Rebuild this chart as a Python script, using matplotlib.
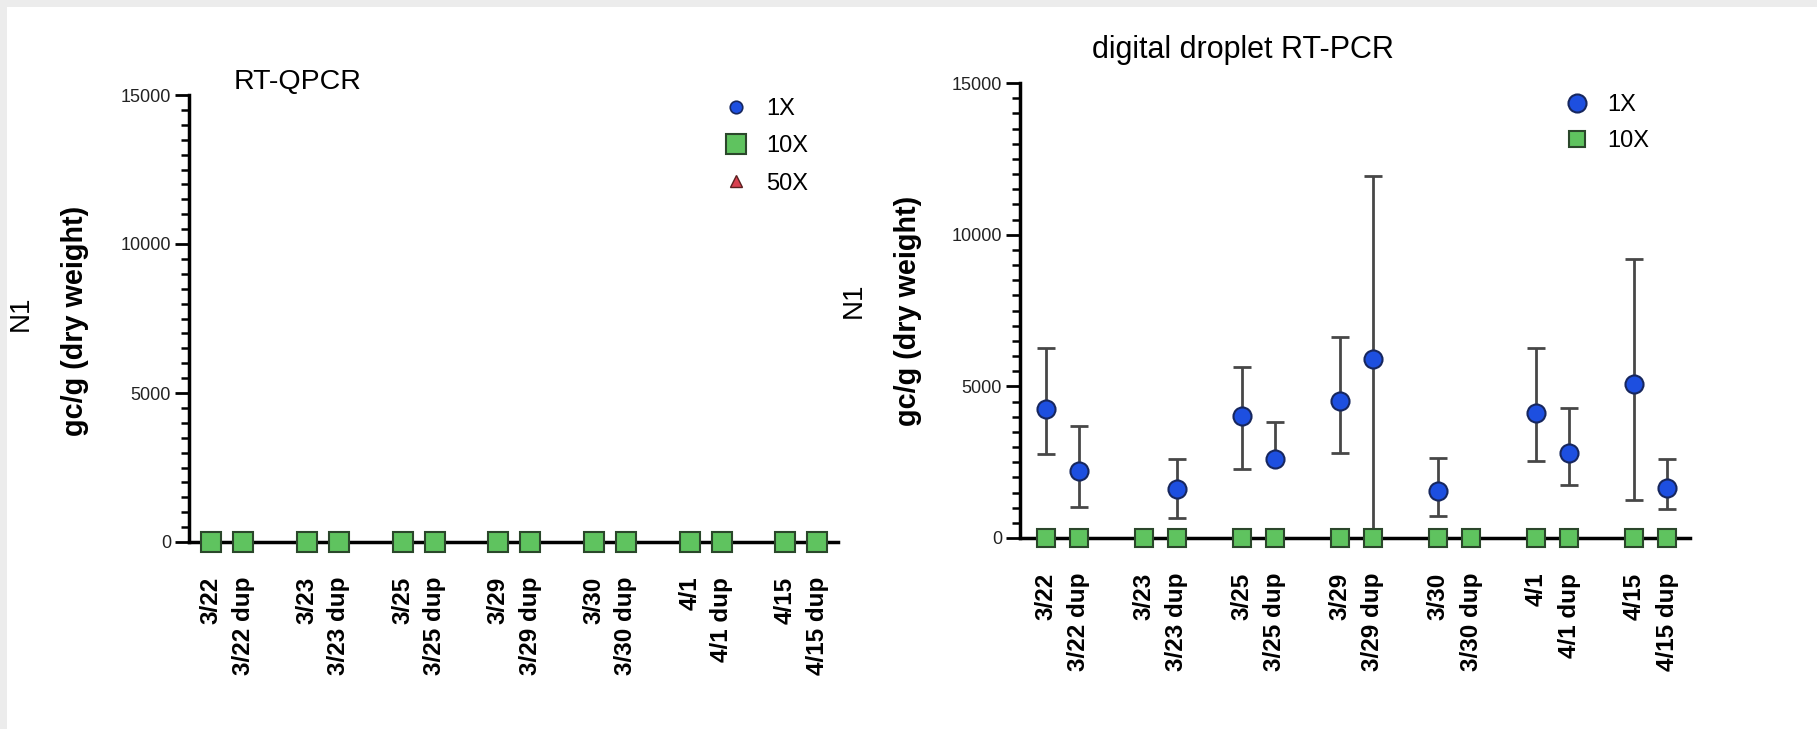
import numpy as np
import matplotlib
matplotlib.use('Agg')
import matplotlib.pyplot as plt
from matplotlib.ticker import MultipleLocator
from matplotlib.lines import Line2D
from matplotlib.patches import Rectangle

plt.rcParams['font.family'] = ['Liberation Sans', 'DejaVu Sans']

# Sample labels (each date plus its duplicate)
labels = ['3/22', '3/22 dup', '3/23', '3/23 dup', '3/25', '3/25 dup',
          '3/29', '3/29 dup', '3/30', '3/30 dup', '4/1', '4/1 dup',
          '4/15', '4/15 dup']

# RT-qPCR: everything at zero
qpcr_10x = [0, 0, 0, 0, 0, 0, 0, 0, 0, 0, 0, 0, 0, 0]

# ddRT-PCR, 1X dilution: mean with upper / lower error bar ends
dd_1x = [4240, 2220, np.nan, 1610, 4010, 2590, 4520, 5900, 1560, np.nan,
         4120, 2790, 5090, 1640]
dd_1x_hi = [6270, 3690, np.nan, 2600, 5640, 3830, 6620, 11940, 2630, np.nan,
            6270, 4280, 9210, 2600]
dd_1x_lo = [2760, 1030, np.nan, 670, 2280, 2590, 2790, 0, 720, np.nan,
            2530, 1760, 1260, 950]
dd_10x = [0, 0, 0, 0, 0, 0, 0, 0, 0, 0, 0, 0, 0, 0]

# positions: pairs with a gap between dates
xpos = np.array([3 * (i // 2) + i % 2 for i in range(len(labels))])

blue = '#1d4fe0'
blue_edge = '#17275e'
green = '#5fc35f'
green_edge = '#2b472b'
red = '#d8404f'

fig = plt.figure(figsize=(18.17, 7.29), dpi=100)
fig.patch.set_facecolor('#ececec')
fig.patches.append(Rectangle((7 / 1817, 0), 1, 1 - 7 / 729, transform=fig.transFigure,
                             facecolor='white', edgecolor='none', zorder=-10))


def style_axes(ax, xlim):
    ax.set_xlim(*xlim)
    ax.set_ylim(0, 15000)
    for s in ['top', 'right']:
        ax.spines[s].set_visible(False)
    for s in ['left', 'bottom']:
        ax.spines[s].set_linewidth(2.5)
        ax.spines[s].set_color('black')
    ax.yaxis.set_major_locator(MultipleLocator(5000))
    ax.yaxis.set_minor_locator(MultipleLocator(500))
    ax.tick_params(axis='y', which='major', length=10, width=2, labelsize=13,
                   labelcolor='#222222', pad=3)
    ax.tick_params(axis='y', which='minor', length=6, width=1.8)
    ax.set_xticks(xpos)
    ax.set_xticklabels(labels, rotation=90, fontsize=17.5, fontweight='bold')
    ax.tick_params(axis='x', length=0, pad=25)
    ax.set_facecolor('none')


# ---- left: RT-QPCR
ax1 = fig.add_axes([189 / 1817, 1 - 542 / 729, 649 / 1817, 447 / 729])
style_axes(ax1, (-0.7, 19.65))
ax1.plot(xpos, qpcr_10x, 's', ms=14, mfc=green, mec=green_edge, mew=1.5,
         clip_on=False, zorder=4)
h1 = [Line2D([], [], ls='none', marker='o', ms=9, mfc=blue, mec=blue_edge, mew=1.2),
      Line2D([], [], ls='none', marker='s', ms=14, mfc=green, mec=green_edge, mew=1.5),
      Line2D([], [], ls='none', marker='^', ms=9, mfc=red, mec='#5a2020', mew=1)]
ax1.legend(h1, ['1X', '10X', '50X'], loc='upper left', frameon=False, fontsize=17,
           bbox_to_anchor=(712 / 1817, 1 - 86 / 729), bbox_transform=fig.transFigure,
           handlelength=1.0, handletextpad=0.8, labelspacing=0.65, borderpad=0)

fig.text(298 / 1817, 1 - 82 / 729, 'RT-QPCR', fontsize=20.5, ha='center', va='center')
fig.text(21 / 1817, 1 - 313 / 729, 'N1', fontsize=20, rotation=90, ha='center', va='center')
fig.text(75 / 1817, 1 - 321 / 729, 'gc/g (dry weight)', fontsize=20.7, fontweight='bold',
         rotation=90, ha='center', va='center')

# ---- right: digital droplet RT-PCR
ax2 = fig.add_axes([1020 / 1817, 1 - 538 / 729, 670 / 1817, 455 / 729])
style_axes(ax2, (-0.8, 19.7))
mean = np.array(dd_1x)
yerr = np.vstack([mean - np.array(dd_1x_lo), np.array(dd_1x_hi) - mean])
ax2.errorbar(xpos, mean, yerr=yerr, fmt='none', ecolor='#474747', elinewidth=2,
             capsize=6.5, capthick=2, zorder=3, clip_on=False)
ax2.plot(xpos, dd_1x, 'o', ms=13, mfc=blue, mec=blue_edge, mew=1.5, zorder=5,
         clip_on=False)
ax2.plot(xpos, dd_10x, 's', ms=13, mfc=green, mec=green_edge, mew=1.5,
         clip_on=False, zorder=4)
h2 = [Line2D([], [], ls='none', marker='o', ms=13, mfc=blue, mec=blue_edge, mew=1.5),
      Line2D([], [], ls='none', marker='s', ms=11, mfc=green, mec=green_edge, mew=1.5)]
ax2.legend(h2, ['1X', '10X'], loc='upper left', frameon=False, fontsize=17,
           bbox_to_anchor=(1553 / 1817, 1 - 82 / 729), bbox_transform=fig.transFigure,
           handlelength=1.0, handletextpad=0.8, labelspacing=0.6, borderpad=0)

fig.text(1243 / 1817, 1 - 50 / 729, 'digital droplet RT-PCR', fontsize=22,
         ha='center', va='center')
fig.text(854 / 1817, 1 - 300 / 729, 'N1', fontsize=20, rotation=90, ha='center', va='center')
fig.text(908 / 1817, 1 - 311 / 729, 'gc/g (dry weight)', fontsize=20.7, fontweight='bold',
         rotation=90, ha='center', va='center')

fig.savefig('out.png', dpi=100, facecolor=fig.get_facecolor())
